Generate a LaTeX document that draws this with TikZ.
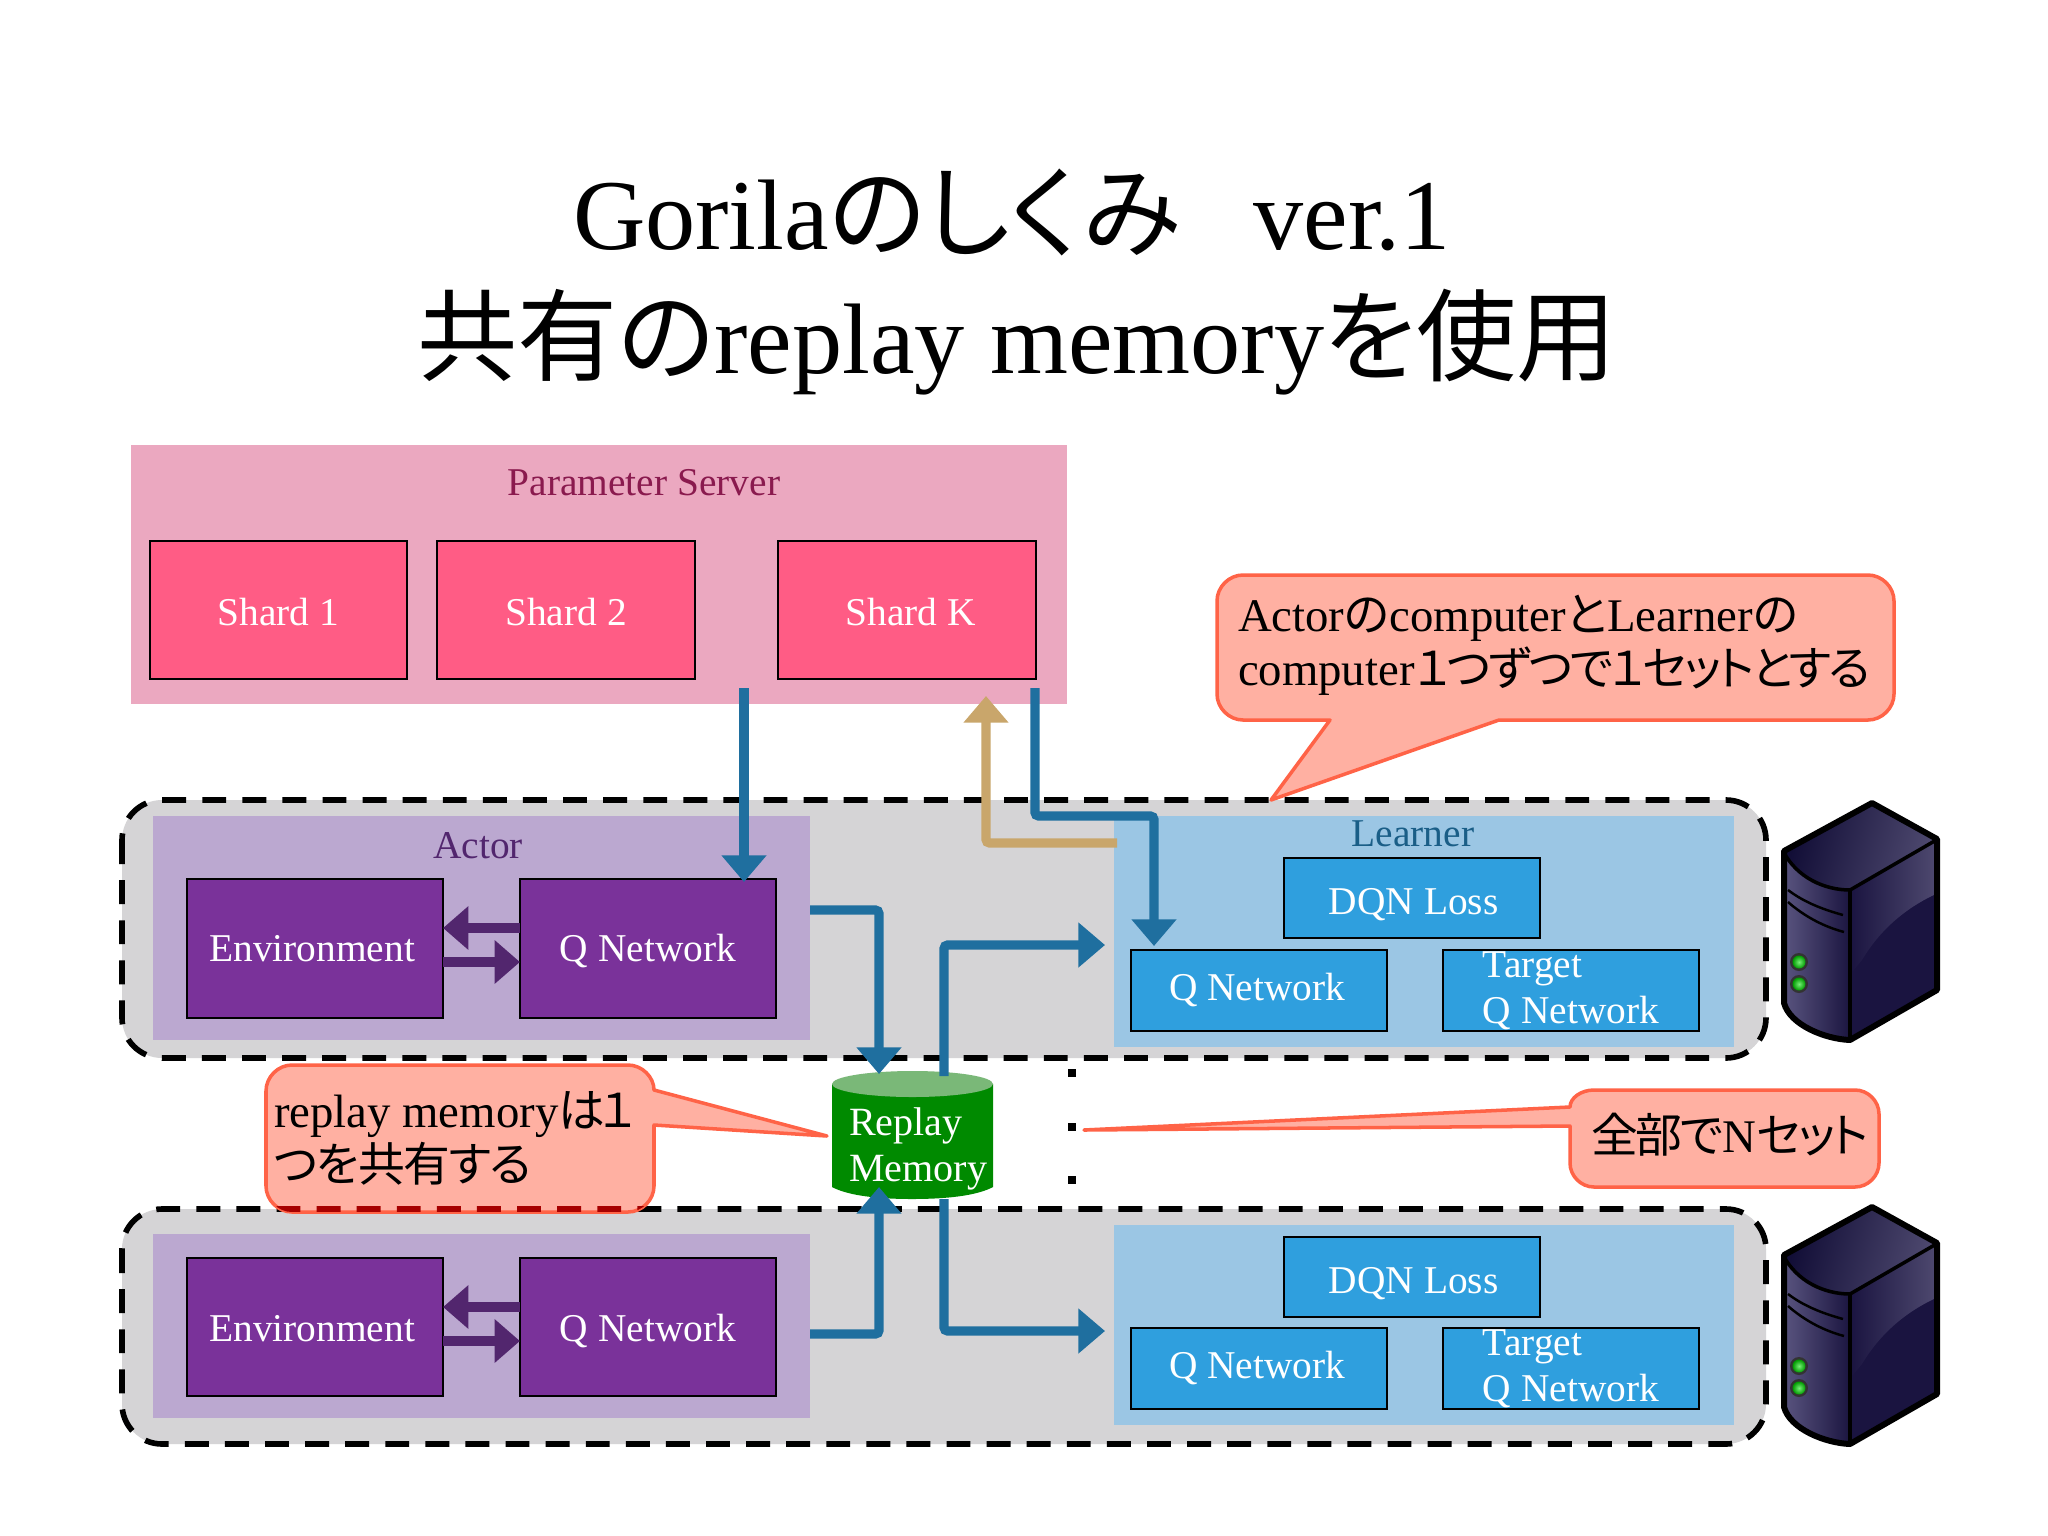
\documentclass[tikz,border=0pt]{standalone}
\usepackage{fontspec}
\setmainfont{Liberation Serif}
\newfontfamily\jp[RawFeature={+palt}]{Noto Sans CJK JP}
\newfontfamily\jpa[RawFeature={+palt},LetterSpace=-3]{Noto Sans CJK JP}
\newfontfamily\jpb[RawFeature={+palt},LetterSpace=-6]{Noto Sans CJK JP}
\newfontfamily\jpc[RawFeature={+palt},LetterSpace=-12]{Noto Sans CJK JP}
\usetikzlibrary{arrows.meta,calc}
\definecolor{grp}{HTML}{D5D4D6}
\definecolor{psbg}{HTML}{EBA8C0}
\definecolor{shard}{HTML}{FF5C85}
\definecolor{actbg}{HTML}{BBA8D0}
\definecolor{actbox}{HTML}{7A329A}
\definecolor{actdark}{HTML}{52266E}
\definecolor{lrnbg}{HTML}{9BC6E4}
\definecolor{lrnbox}{HTML}{2F9FDE}
\definecolor{flow}{HTML}{1F6F9F}
\definecolor{tan}{HTML}{C9A66B}
\definecolor{cgreen}{HTML}{008A00}
\definecolor{ctop}{HTML}{7AB878}
\definecolor{callfill}{HTML}{FFB0A2}
\definecolor{callline}{HTML}{FF6347}
\definecolor{pstitle}{HTML}{8A1A4E}
\newcommand\sz[2]{\fontsize{#1pt}{#2pt}\selectfont}
\newcommand\bx[7]{\node[#1,minimum width={(#4-#3)*0.2845pt},minimum height={(#6-#5)*0.2845pt}] (#2) at ({(#3+#4)/2},{(#5+#6)/2}) {#7};}
\newcommand\myserver[1]{%
\begin{scope}[shift={(0,#1)}]
 \shade[left color=srvA,right color=srvB] (1783,851) .. controls (1797,878) and (1825,890) .. (1850,890) -- (1850,1041) .. controls (1825,1040) and (1790,1025) .. (1783,1003) -- cycle;
 \shade[left color=srvC,right color=srvD,shading angle=75] (1783,851) -- (1872,802) -- (1938,839) -- (1850,890) .. controls (1825,890) and (1797,878) .. (1783,851) -- cycle;
 \fill[srvE] (1850,890) -- (1938,839) -- (1938,990) -- (1850,1041) -- cycle;
 \shade[left color=srvE,right color=srvD] (1850,890) -- (1938,839) -- (1938,893) .. controls (1905,908) and (1880,930) .. (1862,960) -- (1850,975) -- cycle;
 \draw[line width=0.7pt,black] (1788,890) .. controls (1805,903) and (1825,910) .. (1843,915);
 \draw[line width=0.7pt,black] (1788,902) .. controls (1805,917) and (1825,927) .. (1844,932);
 \draw[line width=1pt,black,line join=round] (1783,851) .. controls (1797,878) and (1825,890) .. (1850,890) -- (1938,839);
 \draw[line width=1pt,black] (1850,890) -- (1850,1041);
 \draw[line width=1.7pt,black,line join=round] (1784,851) -- (1872,803) -- (1937,839) -- (1937,990) -- (1850,1040) .. controls (1825,1039) and (1790,1025) .. (1784,1003) -- cycle;
 \fill[black!80] (1799,962) circle (9);
 \fill[black!80] (1799,984) circle (9);
 \shade[inner color=srvG,outer color=green!60!black] (1799,962) circle (6.5);
 \shade[inner color=srvG,outer color=green!60!black] (1799,984) circle (6.5);
\end{scope}}
\definecolor{srvA}{HTML}{5A5580}
\definecolor{srvB}{HTML}{1B1540}
\definecolor{srvC}{HTML}{100C35}
\definecolor{srvD}{HTML}{4F4A70}
\definecolor{srvE}{HTML}{1A1440}
\definecolor{srvG}{HTML}{78F078}
\begin{document}
\begin{tikzpicture}[x=0.01cm,y=-0.01cm,
  every node/.style={inner sep=0pt,outer sep=0pt},
  group/.style={fill=grp,draw=black,line width=1.6pt,dash pattern=on 6.8pt off 4.6pt,rounded corners=11.4pt},
  pstext/.style={text=white,font=\sz{11.2}{13},text depth=0pt},
  shardbox/.style={fill=shard,draw=black,line width=0.45pt,pstext,text height=8.8pt},
  actorbox/.style={fill=actbox,draw=black,line width=0.45pt,pstext,text height=7.3pt},
  actorlow/.style={actorbox,text height=8.1pt},
  learnbox/.style={fill=lrnbox,draw=black,line width=0.45pt,pstext,text height=5.9pt},
  lossbox/.style={learnbox,text height=9.6pt},
  twoline/.style={align=left,text height=,text depth=},
  flowline/.style={draw=flow,line width=2.6pt,rounded corners=1pt,-{Triangle[width=12.4pt,length=7.6pt]}},
  tanline/.style={flowline,draw=tan},
  dualline/.style={draw=actdark,line width=2.6pt,-{Triangle[width=12pt,length=7.2pt]}},
  calltext/.style={font=\sz{13.3}{15.3},align=left,text=black,anchor=west},
  callout/.style={fill=callfill,draw=callline,line width=1pt,line join=round}]
\useasboundingbox (0,0) rectangle (2048,1536);
\fill[white] (0,0) rectangle (2048,1536);
% title
\node[font=\sz{28.5}{35.5},align=center] (title) at (1012,282) {Gorila{\jp のしくみ}\hspace{0.72em}ver.1\\\hspace*{3pt}{\jp 共有の}replay memory{\jp を使用}};
% parameter server
\fill[psbg] (131,445) rectangle (1067,704);
\node[font=\sz{11.2}{13},text=pstitle] (pslabel) at (644,483) {Parameter Server};
\bx{shardbox}{sa}{150}{407}{541}{679}{Shard 1}
\bx{shardbox}{sb}{437}{695}{541}{679}{Shard 2}
\bx{shardbox}{sk}{778}{1036}{541}{679}{\hspace*{2.2pt}Shard K}
% groups
\path[group] (122,800) rectangle (1766,1058);
\path[group] (122,1209) rectangle (1766,1444);
\fill[actbg] (153,816) rectangle (810,1040);
\fill[actbg] (153,1234) rectangle (810,1418);
\fill[lrnbg] (1114,816) rectangle (1734,1047);
\fill[lrnbg] (1114,1225) rectangle (1734,1425);
\node[font=\sz{11.2}{13},text=actdark] (actorlabel) at (478,846) {Actor};
\node[font=\sz{11.2}{13},text=flow!85!black] (learnerlabel) at (1413,834) {Learner};
% actor boxes
\bx{actorbox}{ea}{187}{443}{879}{1018}{Environment\hspace*{1.6pt}}
\bx{actorbox}{qa}{520}{776}{879}{1018}{Q Network}
\bx{actorlow}{eb}{187}{443}{1258}{1396}{Environment\hspace*{1.6pt}}
\bx{actorlow}{qb}{520}{776}{1258}{1396}{Q Network}
% learner boxes
\bx{lossbox}{da}{1284}{1540}{858}{938}{\hspace*{1pt}DQN Loss}
\bx{learnbox}{la}{1131}{1387}{950}{1031}{Q Network\hspace*{1pt}}
\bx{learnbox,twoline}{ta}{1443}{1699}{950}{1031}{Target\\Q Network}
\bx{lossbox}{db}{1284}{1540}{1237}{1317}{\hspace*{1pt}DQN Loss}
\bx{learnbox}{lb}{1131}{1387}{1328}{1409}{Q Network\hspace*{1pt}}
\bx{learnbox,twoline}{tb}{1443}{1699}{1328}{1409}{Target\\Q Network}
% replay memory cylinder
\fill[cgreen] (832,1084) -- (832,1187) .. controls (845,1194) and (870,1199) .. (912,1199) .. controls (955,1199) and (980,1194) .. (993,1187) -- (993,1084) -- cycle;
\fill[ctop] (912.5,1084) ellipse (80.5 and 13);
\node[font=\sz{11.4}{13.1},text=white,align=left,anchor=west] (replay) at (849,1149) {Replay\\Memory};
% dots
\foreach \i/\yy in {a/1073,b/1127,c/1180} {\fill[black] (1068,\yy-4) rectangle (1076,\yy+4);}
% callouts
\path[callout] (1330,720) -- (1243,720) .. controls (1229,720) and (1217,708) .. (1217,694) -- (1217,601) .. controls (1217,587) and (1229,575) .. (1243,575) -- (1868,575) .. controls (1882,575) and (1894,587) .. (1894,601) -- (1894,694) .. controls (1894,708) and (1882,720) .. (1868,720) -- (1499,720) -- (1271,800) -- cycle;
\node[calltext] (ctext) at (1238,645) {Actor{\jpc の}computer{\jpc と}Learner{\jpc の}\\computer{\jpb １つずつで１セットとする}};
\path[callout] (654,1125) -- (654,1186) .. controls (654,1200) and (642,1212) .. (628,1212) -- (292,1212) .. controls (278,1212) and (266,1200) .. (266,1186) -- (266,1091) .. controls (266,1077) and (278,1065) .. (292,1065) -- (628,1065) .. controls (642,1065) and (654,1077) .. (654,1090) -- (827,1136) -- cycle;
\begin{scope}
 \clip (654,1125) -- (654,1186) .. controls (654,1200) and (642,1212) .. (628,1212) -- (292,1212) .. controls (278,1212) and (266,1200) .. (266,1186) -- (266,1091) .. controls (266,1077) and (278,1065) .. (292,1065) -- (628,1065) .. controls (642,1065) and (654,1077) .. (654,1090) -- cycle;
 \draw[draw=red!65!black,line width=1.6pt,dash pattern=on 6.8pt off 4.6pt,rounded corners=11.4pt] (122,1209) rectangle (1766,1444);
\end{scope}
\node[calltext] (rtext) at (274,1138) {replay memory{\jpc は１}\\{\jpa つを共有する}};
\path[callout] (1570,1126) -- (1570,1163) .. controls (1570,1176) and (1581,1187) .. (1594,1187) -- (1855,1187) .. controls (1868,1187) and (1879,1176) .. (1879,1163) -- (1879,1114) .. controls (1879,1101) and (1868,1090) .. (1855,1090) -- (1594,1090) .. controls (1581,1090) and (1570,1098) .. (1570,1107) -- (1084,1130) -- cycle;
\node[font=\sz{13.3}{15.3}] (ntext) at (1730,1135) {{\jpb 全部で}N{\jpb セット}};
% connectors
\coordinate (s1) at (744,688);
\coordinate (s1t) at (744,882);
\draw[flowline] (s1) -- (s1t);
\coordinate (s2) at (1035,688);
\coordinate (s2t) at (1154,946);
\draw[flowline] (s2) -- (1035,816) -- (1154,816) -- (s2t);
\coordinate (t1) at (1117,843);
\coordinate (t2) at (986,696);
\draw[tanline] (t1) -- (986,843) -- (t2);
\coordinate (a3s) at (810,910);
\coordinate (rtop) at (879,1074);
\draw[flowline] (a3s) -- (879,910) -- (rtop);
\coordinate (a4s) at (944,1076);
\coordinate (a4e) at (1105,945);
\draw[flowline] (a4s) -- (944,945) -- (a4e);
\coordinate (a5s) at (810,1334);
\coordinate (rbot) at (879,1187);
\draw[flowline] (a5s) -- (879,1334) -- (rbot);
\coordinate (a6s) at (944,1199);
\coordinate (a6e) at (1105,1331);
\draw[flowline] (a6s) -- (944,1331) -- (a6e);
\draw[dualline] (qa.west |- 0,928) -- (ea.east |- 0,928);
\draw[dualline] (ea.east |- 0,962) -- (qa.west |- 0,962);
\draw[dualline] (qb.west |- 0,1307) -- (eb.east |- 0,1307);
\draw[dualline] (eb.east |- 0,1341) -- (qb.west |- 0,1341);
% servers
\myserver{0}
\myserver{404}
\end{tikzpicture}
\end{document}
